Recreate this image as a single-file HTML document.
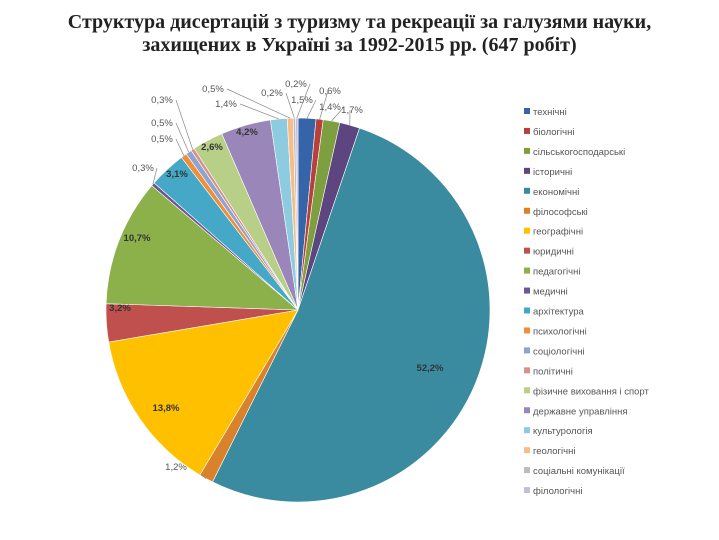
<!DOCTYPE html>
<html><head><meta charset="utf-8"><style>
body{margin:0;background:#fff;width:719px;height:540px;overflow:hidden;font-family:"Liberation Sans",sans-serif}
#title{position:absolute;left:0;width:719px;top:11px;text-align:center;font-family:"Liberation Serif",serif;font-weight:bold;font-size:20px;line-height:23px;color:#222}
</style></head><body>
<div id="title">Структура дисертацій з туризму та рекреації за галузями науки,<br>захищених в Україні за 1992-2015 рр. (647 робіт)</div>
<svg id="chart" width="719" height="540" style="position:absolute;left:0;top:0"></svg>
<script>
const categories=["технічні","біологічні","сільськогосподарські","історичні","економічні","філософські","географічні","юридичні","педагогічні","медичні","архітектура","психологічні","соціологічні","політичні","фізичне виховання і спорт","державне управління","культурологія","геологічні","соціальні комунікації","філологічні"];
const values=[1.5,0.6,1.4,1.7,52.2,1.2,13.8,3.2,10.7,0.3,3.1,0.5,0.5,0.3,2.6,4.2,1.4,0.5,0.2,0.2];
const valueLabels=["1,5%","0,6%","1,4%","1,7%","52,2%","1,2%","13,8%","3,2%","10,7%","0,3%","3,1%","0,5%","0,5%","0,3%","2,6%","4,2%","1,4%","0,5%","0,2%","0,2%"];
const colors=["#3565a8","#b8403c","#7e9f3f","#5d4680","#3a8aa0","#d9822b","#ffc000","#c0504d","#8cb04a","#6b5794","#44a8c6","#ee8f3a","#8fa3d0","#d98f8d","#b7cf86","#9a86b8","#8ccbe0","#f7bd86","#b8bcc4","#c8bcdc"];
const labelPos=[[302,103],[330,94],[330,110],[352,113],[430,371],[176,470],[166,411],[120,311],[137,241],[143,171],[177,177],[162,142],[162,126],[162,103],[212,150],[247,135],[226,107],[213,92],[272,96],[296,87]];
const outside=[0,1,2,3,5,9,11,12,13,16,17,18,19];
const svg=document.getElementById('chart');const NS='http://www.w3.org/2000/svg';
const cx=298,cy=310,r=192;
const total=values.reduce((a,b)=>a+b,0);
function pt(a,rr){return[cx+rr*Math.sin(a),cy-rr*Math.cos(a)];}
let a0=0;
values.forEach((v,i)=>{
 const a1=a0+v/total*2*Math.PI;
 const p0=pt(a0,r),p1=pt(a1,r);
 const p=document.createElementNS(NS,'path');
 p.setAttribute('d',`M${cx},${cy}L${p0[0]},${p0[1]}A${r},${r} 0 ${a1-a0>Math.PI?1:0} 1 ${p1[0]},${p1[1]}Z`);
 p.setAttribute('fill',colors[i]);p.setAttribute('stroke','#fff');p.setAttribute('stroke-width','0.6');
 
 
 svg.appendChild(p);
 const lp=labelPos[i];
 if(outside.includes(i)){
  const m=pt((a0+a1)/2,r);
  const l=document.createElementNS(NS,'line');
  l.setAttribute('x1',lp[0]+(lp[0]<m[0]?14:-2));l.setAttribute('y1',lp[1]-3);l.setAttribute('x2',m[0]);l.setAttribute('y2',m[1]);
  l.setAttribute('stroke','#888');l.setAttribute('stroke-width','0.7');
  
  
  svg.appendChild(l);
 }
 const t=document.createElementNS(NS,'text');
 t.setAttribute('x',lp[0]);t.setAttribute('y',lp[1]);t.setAttribute('text-anchor','middle');
 t.setAttribute('font-size','9.5');t.setAttribute('fill',outside.includes(i)?'#555':'#333');
 if(!outside.includes(i))t.setAttribute('font-weight','600');
 t.textContent=valueLabels[i];
 
 
 svg.appendChild(t);
 a0=a1;
});
categories.forEach((c,i)=>{
 const y=112+i*19.95;
 const s=document.createElementNS(NS,'rect');
 s.setAttribute('x',524);s.setAttribute('y',y-4);s.setAttribute('width',6);s.setAttribute('height',6);s.setAttribute('fill',colors[i]);
 
 
 svg.appendChild(s);
 const t=document.createElementNS(NS,'text');
 t.setAttribute('x',533);t.setAttribute('y',y+3);t.setAttribute('font-size','9.5');t.setAttribute('fill','#555');
 t.textContent=c;
 
 
 svg.appendChild(t);
});
</script>
</body></html>
